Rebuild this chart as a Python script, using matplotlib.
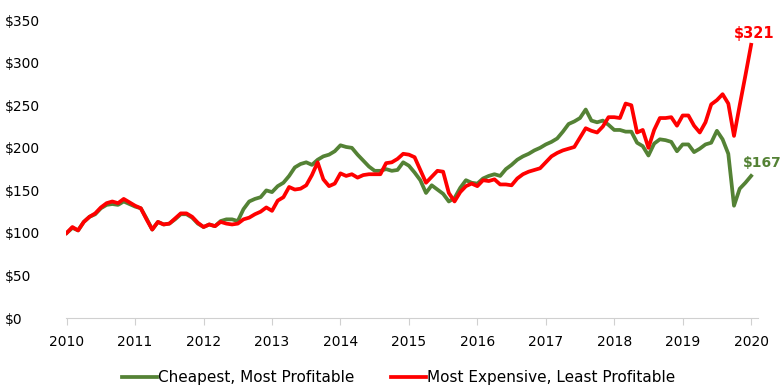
import matplotlib
matplotlib.use("Agg")
import matplotlib.pyplot as plt
import numpy as np

# monthly index values, Jan 2010 .. Jan 2020 (2010 = $100)
cheap = [100, 106, 103, 113, 119, 122, 129, 133, 134, 133, 137, 134,
         131, 129, 117, 104, 113, 110, 111, 116, 122, 122, 118, 111,
         107, 110, 108, 114, 116, 116, 114, 128, 137, 140, 142, 150,
         148, 155, 159, 167, 177, 181, 183, 180, 186, 190, 192, 196,
         203, 201, 200, 192, 185, 178, 173, 173, 175, 173, 174, 183,
         179, 171, 162, 147, 156, 151, 146, 137, 141, 153, 162, 159,
         158, 164, 167, 169, 167, 175, 180, 186, 190, 193, 197, 200,
         204, 207, 211, 219, 228, 231, 235, 245, 232, 230, 232, 227,
         221, 221, 219, 219, 206, 202, 191, 205, 210, 209, 207, 196,
         204, 204, 195, 199, 204, 206, 220, 210, 193, 132, 152, 159,
         167]
expensive = [100, 107, 103, 113, 119, 123, 130, 135, 137, 135, 140, 136,
             132, 129, 116, 104, 113, 110, 111, 117, 123, 123, 119, 112,
             107, 110, 108, 113, 111, 110, 111, 116, 118, 122, 125, 130,
             126, 138, 142, 154, 151, 152, 156, 168, 183, 163, 155, 158,
             170, 167, 169, 165, 168, 169, 169, 169, 182, 183, 187, 193,
             192, 189, 174, 159, 166, 173, 172, 147, 137, 148, 155, 158,
             155, 162, 161, 163, 157, 157, 156, 164, 169, 172, 174, 176,
             183, 190, 194, 197, 199, 201, 212, 223, 220, 218, 225, 236,
             236, 235, 252, 250, 218, 221, 200, 221, 235, 235, 236, 226,
             238, 238, 226, 218, 230, 251, 256, 263, 252, 214, 250, 285,
             321]
years = [2010, 2011, 2012, 2013, 2014, 2015, 2016, 2017, 2018, 2019, 2020]
yticks = [0, 50, 100, 150, 200, 250, 300, 350]
labels = ["Cheapest, Most Profitable", "Most Expensive, Least Profitable"]

green = "#548235"
red = "#FF0000"

x = 2010 + np.arange(len(cheap)) / 12.0

fig = plt.figure(figsize=(7.81, 3.87), dpi=100)
ax = fig.add_axes([0.0845, 0.178, 0.886, 0.770])

ax.plot(x, cheap, color=green, lw=2.7, label=labels[0], solid_joinstyle="round")
ax.plot(x, expensive, color=red, lw=2.7, label=labels[1], solid_joinstyle="round")

ax.set_xlim(2009.99, 2020.1)
ax.set_ylim(0, 350)
ax.set_xticks(years)
ax.set_xticklabels([str(y) for y in years], fontsize=10)
ax.set_yticks(yticks)
ax.set_yticklabels(["$%d" % v for v in yticks], fontsize=10, ha="left")

for s in ["top", "right", "left"]:
    ax.spines[s].set_visible(False)
ax.spines["bottom"].set_color("#D0D0D0")
ax.tick_params(axis="y", length=0, pad=44)
ax.tick_params(axis="x", length=5, color="#D0D0D0", pad=7)

ax.annotate("$%d" % expensive[-1], (x[-1], expensive[-1]), xytext=(2, 3),
            textcoords="offset points", ha="center", va="bottom",
            color=red, fontsize=10.5, fontweight="bold", annotation_clip=False)
ax.annotate("$%d" % cheap[-1], (x[-1], cheap[-1]), xytext=(-6, 4),
            textcoords="offset points", ha="left", va="bottom",
            color=green, fontsize=10, fontweight="bold", annotation_clip=False)

fig.legend(loc="lower center", bbox_to_anchor=(0.51, -0.03), ncol=2,
           frameon=False, fontsize=11, handlelength=2.3, handletextpad=0.05,
           columnspacing=2.4)

fig.savefig("out.png", dpi=100)
